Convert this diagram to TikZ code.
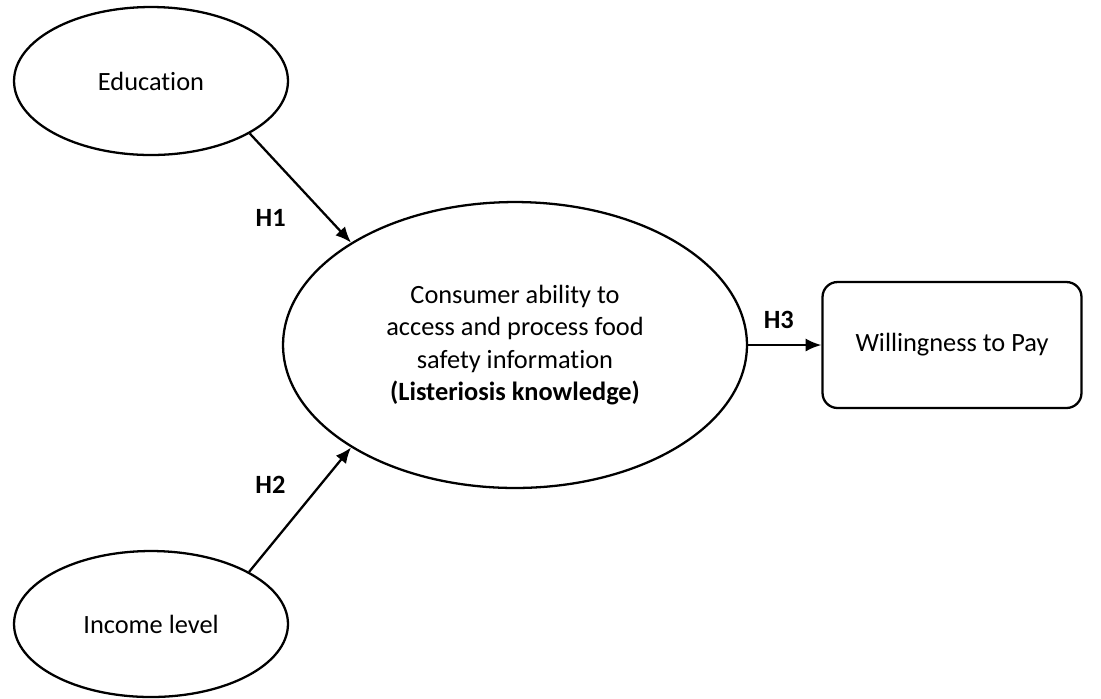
\documentclass[tikz,border=0pt]{standalone}
\usepackage{fontspec}
\setmainfont{Carlito}[Ligatures=NoCommon]
\usetikzlibrary{shapes.geometric,arrows.meta}

\begin{document}
\begin{tikzpicture}[x=0.02cm,y=-0.02cm,line width=1.3pt,>={Latex[length=9pt,width=7.5pt]},
    font=\fontsize{15}{18.3}\selectfont,
    factor/.style={ellipse,draw,inner sep=0pt},
    hyp/.style={font=\fontsize{15}{18.3}\selectfont\bfseries}]

    \useasboundingbox (0,0) rectangle (1101,698);

    % the three factors and the outcome
    \node[factor,minimum width=5.48cm,minimum height=2.96cm] (edu) at (151,81) {Education};
    \node[factor,minimum width=5.48cm,minimum height=2.92cm] (inc) at (151,624) {Income level};
    \node[factor,minimum width=9.28cm,minimum height=5.72cm,align=center] (cons) at (515,345)
        {Consumer ability to\\access and process food\\safety information\\\textbf{(Listeriosis knowledge)}};
    \node[draw,rounded corners=0.3cm,minimum width=5.18cm,minimum height=2.52cm] (wtp) at (952,345) {Willingness to Pay};

    % hypotheses
    \draw[->] (edu.-28) -- node[hyp,pos=0.65,xshift=-0.9cm,yshift=-0.27cm] {H1} (cons.148);
    \draw[->] (inc.28) -- node[hyp,pos=0.65,xshift=-0.9cm,yshift=0.12cm] {H2} (cons.-148);
    \draw[->] (cons.east) -- node[hyp,midway,xshift=-0.12cm,yshift=0.5cm] {H3} (wtp.west);

\end{tikzpicture}
\end{document}
